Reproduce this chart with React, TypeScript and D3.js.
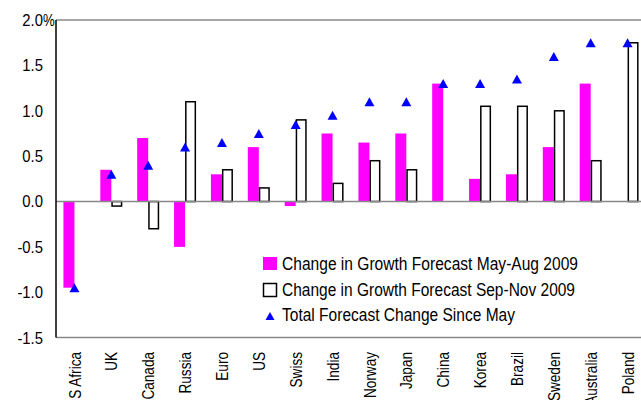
import React from "react";
import * as d3 from "d3";

const categories = ["S Africa", "UK", "Canada", "Russia", "Euro", "US", "Swiss", "India", "Norway", "Japan", "China", "Korea", "Brazil", "Sweden", "Australia", "Poland"];
const mayAug = [-0.95, 0.35, 0.7, -0.5, 0.3, 0.6, -0.05, 0.75, 0.65, 0.75, 1.3, 0.25, 0.3, 0.6, 1.3, 0];
const sepNov = [0, -0.05, -0.3, 1.1, 0.35, 0.15, 0.9, 0.2, 0.45, 0.35, 0, 1.05, 1.05, 1.0, 0.45, 1.75];
const total = [-0.95, 0.3, 0.4, 0.6, 0.65, 0.75, 0.85, 0.95, 1.1, 1.1, 1.3, 1.3, 1.35, 1.6, 1.75, 1.75];
const yTicks = [2.0, 1.5, 1.0, 0.5, 0.0, -0.5, -1.0, -1.5];
const legendLabels = ["Change in Growth Forecast May-Aug 2009", "Change in Growth Forecast Sep-Nov 2009", "Total Forecast Change Since May"];
const legendWidths = [296, 293, 233];

const FONT = "'Liberation Sans', Arial, sans-serif";

export default function App() {
  const W = 641, H = 400;
  const left = 56, right = 646;
  const y = d3.scaleLinear().domain([-1.5, 2.0]).range([337.6, 20.1]);
  const x = d3.scaleBand().domain(categories).range([left, right]).paddingInner(0).paddingOuter(0);
  const bw = 11;
  const tri = (cx: number, cy: number, s: number) => {
    const h = s * 0.9;
    return `M${cx},${cy - h / 2} L${cx + s / 2},${cy + h / 2} L${cx - s / 2},${cy + h / 2} Z`;
  };
  return (
    <svg width={W} height={H} style={{ position: "absolute", left: 0, top: 0, background: "#fff" }} fontFamily={FONT}>
      <rect x={0} y={0} width={W} height={H} fill="#fff" />
      <line x1={left} x2={W} y1={y(2.0)} y2={y(2.0)} stroke="#888" strokeWidth={1.5} />
      <line x1={left} x2={W} y1={y(-1.5)} y2={y(-1.5)} stroke="#888" strokeWidth={1.5} />
      {categories.map((c, i) => {
        const cx = (x(c) as number) + x.bandwidth() / 2;
        const v1 = mayAug[i];
        const v2 = sepNov[i];
        return (
          <g key={c}>
            {v1 !== 0 && (
              <rect x={cx - bw} width={bw} y={Math.min(y(v1), y(0))} height={Math.abs(y(v1) - y(0))} fill="#ff00ff" />
            )}
            {v2 !== 0 && (
              <rect x={cx + 0.75} width={bw - 1.5} y={Math.min(y(v2), y(0))} height={Math.abs(y(v2) - y(0))} fill="#fff" stroke="#000" strokeWidth={1.5} />
            )}
          </g>
        );
      })}
      <line x1={left} x2={W} y1={y(0)} y2={y(0)} stroke="#888" strokeWidth={1.5} />
      {categories.map((c, i) => {
        const cx = (x(c) as number) + x.bandwidth() / 2;
        return <path key={c} d={tri(cx, y(total[i]), 10)} fill="#0000ff" />;
      })}
      <line x1={left} x2={left} y1={y(2.0)} y2={y(-1.5)} stroke="#000" strokeWidth={1.5} />
      {yTicks.map((t, i) => (
        <g key={t}>
          <text x={43} y={y(t)} dy="0.36em" textAnchor="end" fontSize={16.5} fill="#000" transform={`translate(43,0) scale(0.9,1) translate(-43,0)`}>
            {t.toFixed(1)}
          </text>
          {i === 0 && (
            <text x={43} y={y(t)} dy="0.36em" textAnchor="start" fontSize={16.5} fill="#000" transform={`translate(43,0) scale(0.8,1) translate(-43,0)`}>%</text>
          )}
        </g>
      ))}
      {categories.map((c) => {
        const cx = (x(c) as number) + x.bandwidth() / 2;
        return (
          <text key={c} transform={`translate(${cx},352) rotate(-90) scale(0.8,1)`} textAnchor="end" dy="0.36em" fontSize={17} fill="#000">
            {c}
          </text>
        );
      })}
      <g>
        <rect x={263} y={257} width={14} height={13} fill="#ff00ff" />
        <text x={282} y={264} dy="0.36em" fontSize={17.5} fill="#000" textLength={legendWidths[0]} lengthAdjust="spacingAndGlyphs">{legendLabels[0]}</text>
        <rect x={263.5} y={283.5} width={13} height={13} fill="#fff" stroke="#000" strokeWidth={1.5} />
        <text x={282} y={290} dy="0.36em" fontSize={17.5} fill="#000" textLength={legendWidths[1]} lengthAdjust="spacingAndGlyphs">{legendLabels[1]}</text>
        <path d={tri(270, 316, 9)} fill="#0000ff" />
        <text x={282} y={315} dy="0.36em" fontSize={17.5} fill="#000" textLength={legendWidths[2]} lengthAdjust="spacingAndGlyphs">{legendLabels[2]}</text>
      </g>
    </svg>
  );
}
